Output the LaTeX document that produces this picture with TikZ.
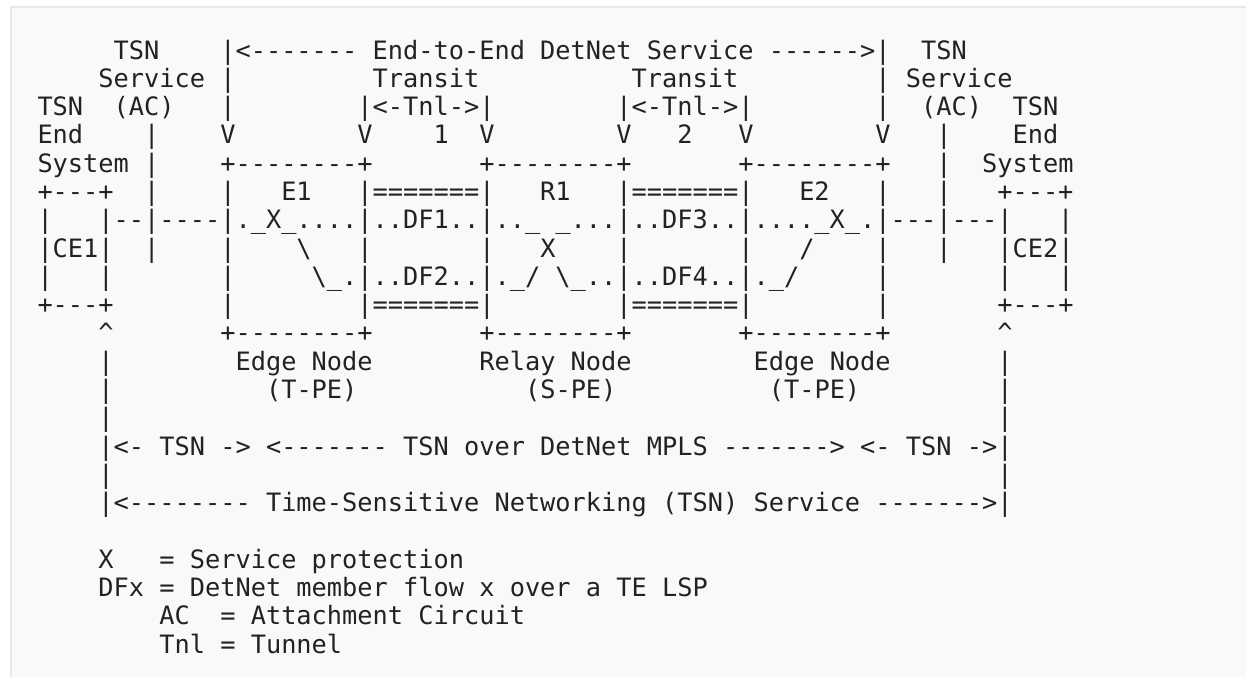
\documentclass[tikz,border=0pt]{standalone}
\usepackage{fontspec}
\setmonofont{DejaVu Sans Mono}
\usepackage{xcolor}

\definecolor{inkgray}{RGB}{34,34,34}
\definecolor{pagegray}{RGB}{249,249,249}
\definecolor{rulegray}{RGB}{232,232,232}
\newcommand{\blanks}[1]{\hskip#1\fontdimen2\font\relax}

\begin{document}
\begin{tikzpicture}[x=0.75pt, y=-0.75pt,
    ascii/.style={anchor=base west, inner sep=0pt, outer sep=0pt, text=inkgray,
        font=\ttfamily\fontsize{18.98pt}{21pt}\selectfont\frenchspacing}]
    \useasboundingbox (0,0) rectangle (1246,676);
    % Figure frame
    \fill[white] (0,0) rectangle (1246,676);
    \filldraw[fill=pagegray, draw=rulegray, line width=1.5pt] (11,7) rectangle (1270,700);

    % Header: service spans and tunnels
    \node[ascii] (r0) at (37.5,59.1) {\blanks{5}TSN\blanks{4}|<------- End-to-End DetNet Service ------>|\blanks{2}TSN};
    \node[ascii] (r1) at (37.5,87.4) {\blanks{4}Service |\blanks{9}Transit\blanks{10}Transit\blanks{9}| Service};
    \node[ascii] (r2) at (37.5,115.7) {TSN\blanks{2}(AC)\blanks{3}|\blanks{8}|<-Tnl->|\blanks{8}|<-Tnl->|\blanks{8}|\blanks{2}(AC)\blanks{2}TSN};
    \node[ascii] (r3) at (37.5,143.9) {End\blanks{4}|\blanks{4}V\blanks{8}V\blanks{4}1\blanks{2}V\blanks{8}V\blanks{3}2\blanks{3}V\blanks{8}V\blanks{3}|\blanks{4}End};
    \node[ascii] (r4) at (37.5,172.2) {System |\blanks{4}+--------+\blanks{7}+--------+\blanks{7}+--------+\blanks{3}|\blanks{2}System};

    % Nodes E1, R1, E2 and the member flows
    \node[ascii] (r5) at (37.5,200.5) {+---+\blanks{2}|\blanks{4}|\blanks{3}E1\blanks{3}|=======|\blanks{3}R1\blanks{3}|=======|\blanks{3}E2\blanks{3}|\blanks{3}|\blanks{3}+---+};
    \node[ascii] (r6) at (37.5,228.8) {|\blanks{3}|--|----|.\_X\_....|..DF1..|..\_ \_...|..DF3..|....\_X\_.|---|---|\blanks{3}|};
    \node[ascii] (r7) at (37.5,257.1) {|CE1|\blanks{2}|\blanks{4}|\blanks{4}\textbackslash\blanks{3}|\blanks{7}|\blanks{3}X\blanks{4}|\blanks{7}|\blanks{3}/\blanks{4}|\blanks{3}|\blanks{3}|CE2|};
    \node[ascii] (r8) at (37.5,285.3) {|\blanks{3}|\blanks{7}|\blanks{5}\textbackslash\_.|..DF2..|.\_/ \textbackslash\_..|..DF4..|.\_/\blanks{5}|\blanks{7}|\blanks{3}|};
    \node[ascii] (r9) at (37.5,313.6) {+---+\blanks{7}|\blanks{8}|=======|\blanks{8}|=======|\blanks{8}|\blanks{7}+---+};
    \node[ascii] (r10) at (37.5,341.9) {\blanks{4}\textasciicircum\blanks{7}+--------+\blanks{7}+--------+\blanks{7}+--------+\blanks{7}\textasciicircum};
    \node[ascii] (r11) at (37.5,370.2) {\blanks{4}|\blanks{8}Edge Node\blanks{7}Relay Node\blanks{8}Edge Node\blanks{7}|};
    \node[ascii] (r12) at (37.5,398.5) {\blanks{4}|\blanks{10}(T-PE)\blanks{11}(S-PE)\blanks{10}(T-PE)\blanks{9}|};

    % TSN service spans
    \node[ascii] (r13) at (37.5,426.7) {\blanks{4}|\blanks{58}|};
    \node[ascii] (r14) at (37.5,455.0) {\blanks{4}|<- TSN -> <------- TSN over DetNet MPLS -------> <- TSN ->|};
    \node[ascii] (r15) at (37.5,483.3) {\blanks{4}|\blanks{58}|};
    \node[ascii] (r16) at (37.5,511.6) {\blanks{4}|<-------- Time-Sensitive Networking (TSN) Service ------->|};

    % Legend
    \node[ascii] (r18) at (37.5,568.1) {\blanks{4}X\blanks{3}= Service protection};
    \node[ascii] (r19) at (37.5,596.4) {\blanks{4}DFx = DetNet member flow x over a TE LSP};
    \node[ascii] (r20) at (37.5,624.7) {\blanks{8}AC\blanks{2}= Attachment Circuit};
    \node[ascii] (r21) at (37.5,653.0) {\blanks{8}Tnl = Tunnel};
\end{tikzpicture}
\end{document}
